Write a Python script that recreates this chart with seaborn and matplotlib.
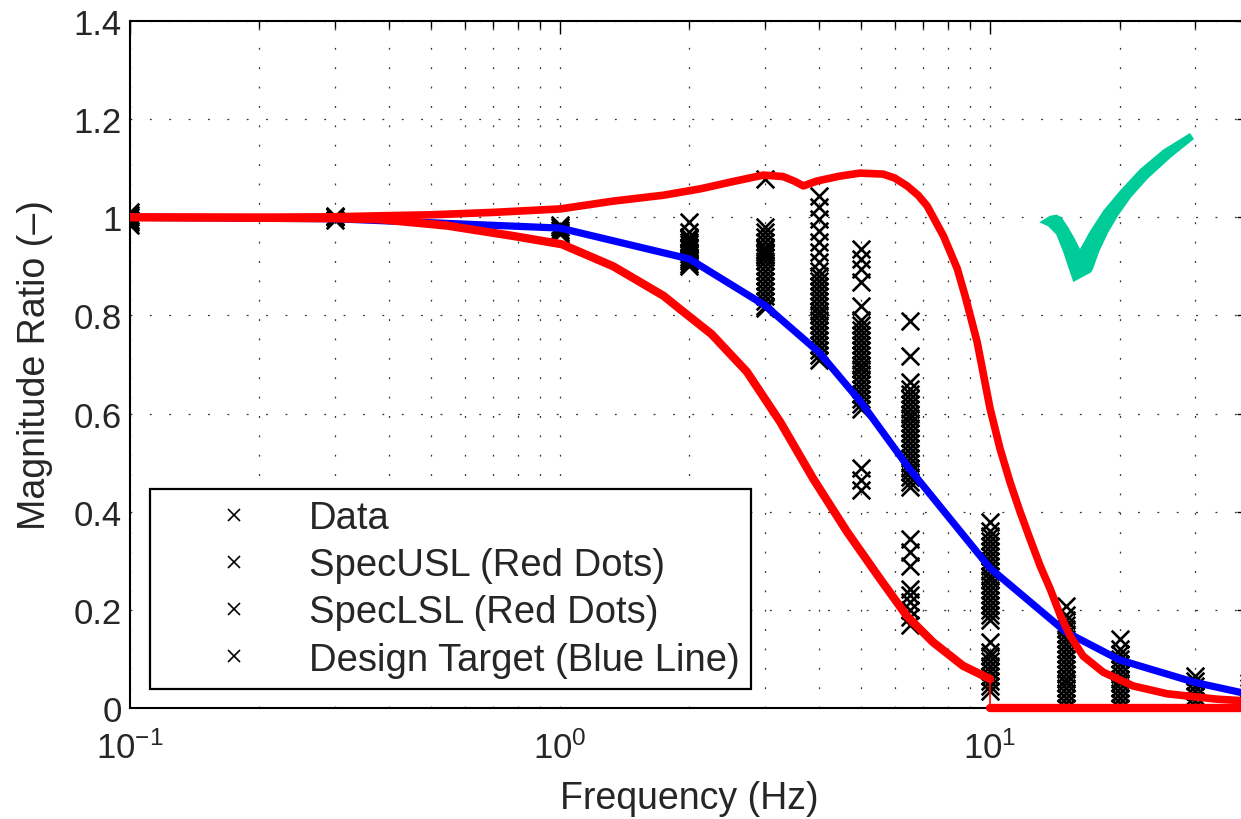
import matplotlib
matplotlib.use("Agg")
import matplotlib.pyplot as plt
import seaborn as sns
import pandas as pd
from matplotlib.lines import Line2D
from matplotlib.patches import Polygon
from matplotlib.ticker import FixedLocator, NullFormatter, LogLocator

# ---------------- data ----------------
data_freqs = [0.1, 0.3, 1, 2, 3, 4, 5, 6.5, 10, 15, 20, 30, 40]
data_vals = [
    [0.985, 0.99, 0.995, 1.0, 1.005, 1.01],
    [0.995, 1.0, 1.002],
    [0.965, 0.97, 0.975, 0.98, 0.985],
    [0.99, 0.97, 0.96, 0.955, 0.95, 0.945, 0.94, 0.935, 0.93, 0.925, 0.92, 0.915, 0.91, 0.905, 0.90],
    [1.078, 0.98, 0.97, 0.96, 0.95, 0.94, 0.935, 0.93, 0.925, 0.92, 0.91, 0.90, 0.89, 0.88, 0.87,
     0.86, 0.85, 0.84, 0.83, 0.82, 0.815],
    [1.043, 1.021, 0.997, 0.972, 0.95, 0.929, 0.909, 0.89, 0.88, 0.87, 0.86, 0.85, 0.84, 0.83, 0.82,
     0.81, 0.80, 0.79, 0.78, 0.77, 0.76, 0.75, 0.74, 0.73, 0.72, 0.71],
    [0.935, 0.915, 0.895, 0.868, 0.82, 0.79, 0.78, 0.77, 0.76, 0.75, 0.74, 0.73, 0.72, 0.71, 0.70,
     0.69, 0.68, 0.67, 0.66, 0.65, 0.64, 0.63, 0.62, 0.61, 0.49, 0.465, 0.445],
    [0.789, 0.717, 0.664, 0.65, 0.64, 0.63, 0.62, 0.61, 0.60, 0.59, 0.58, 0.57, 0.56, 0.55, 0.54,
     0.53, 0.52, 0.51, 0.50, 0.49, 0.48, 0.47, 0.46, 0.45, 0.345, 0.318, 0.29, 0.243, 0.23, 0.215,
     0.20, 0.185, 0.17],
    [0.379, 0.36, 0.35, 0.34, 0.33, 0.32, 0.31, 0.30, 0.29, 0.28, 0.27, 0.26, 0.25, 0.24, 0.23,
     0.22, 0.21, 0.20, 0.19, 0.18, 0.134, 0.115, 0.105, 0.095, 0.085, 0.075, 0.065, 0.055, 0.045, 0.035],
    [0.208, 0.19, 0.18, 0.17, 0.16, 0.15, 0.14, 0.13, 0.12, 0.11, 0.10, 0.09, 0.08, 0.07, 0.06,
     0.05, 0.04, 0.03, 0.02, 0.01, 0.0],
    [0.14, 0.12, 0.11, 0.10, 0.09, 0.08, 0.07, 0.06, 0.05, 0.04, 0.03, 0.02, 0.01, 0.0],
    [0.065, 0.055, 0.045, 0.035, 0.025, 0.015, 0.005],
    [0.05, 0.04, 0.03, 0.02, 0.01, 0.0],
]

target_f = [0.1, 0.3, 1, 2, 3, 4, 5, 6.5, 10, 15, 20, 30, 40]
target_y = [1.0, 0.997, 0.978, 0.915, 0.82, 0.725, 0.624, 0.487, 0.285, 0.155, 0.098, 0.052, 0.028]

usl_f = [0.1, 0.2, 0.3, 0.38, 0.5, 0.7, 1.0, 1.33, 1.74, 2.12, 2.5, 2.97, 3.3, 3.5, 3.68, 3.96,
         4.48, 4.98, 5.64, 6.0, 6.41, 6.8, 7.14, 7.79, 8.39, 8.76, 9.33, 10.0, 10.55, 11.13,
         11.74, 12.39, 13.07, 13.79, 14.55, 15.35, 16.45, 18.32, 21.5, 25.8, 33.7, 40]
usl_y = [1.0, 1.0, 1.001, 1.003, 1.005, 1.01, 1.017, 1.033, 1.045, 1.058, 1.072, 1.086, 1.083,
         1.074, 1.064, 1.074, 1.084, 1.09, 1.088, 1.08, 1.064, 1.045, 1.023, 0.962, 0.895, 0.838,
         0.746, 0.61, 0.528, 0.46, 0.40, 0.344, 0.29, 0.243, 0.19, 0.147, 0.106, 0.073, 0.045,
         0.029, 0.018, 0.014]

lsl_f = [0.1, 0.2, 0.3, 0.38, 0.546, 0.777, 1.01, 1.33, 1.74, 1.9, 2.25, 2.72, 3.25, 3.88, 4.65,
         5.55, 6.41, 7.37, 8.65, 10.0]
lsl_y = [1.0, 0.999, 0.998, 0.996, 0.983, 0.962, 0.945, 0.90, 0.84, 0.813, 0.762, 0.685, 0.583,
         0.467, 0.359, 0.263, 0.187, 0.134, 0.086, 0.059]
lsl_zero_f = [10, 40]
lsl_zero_y = [0, 0]
lsl_jump_f = [10, 10]
lsl_jump_y = [0.059, 0]

y_ticks = [0, 0.2, 0.4, 0.6, 0.8, 1.0, 1.2, 1.4]
y_tick_labels = ["0", "0.2", "0.4", "0.6", "0.8", "1", "1.2", "1.4"]
x_ticks = [0.1, 1, 10]
x_tick_labels = [r"$10^{-1}$", r"$10^{0}$", r"$10^{1}$"]
legend_labels = ["Data", "SpecUSL (Red Dots)", "SpecLSL (Red Dots)", "Design Target (Blue Line)"]

# ---------------- style ----------------
sns.set_style("white")
plt.rcParams["font.family"] = ["Liberation Sans", "DejaVu Sans"]
plt.rcParams["mathtext.fontset"] = "custom"
plt.rcParams["mathtext.rm"] = "Liberation Sans"
plt.rcParams["mathtext.it"] = "Liberation Sans:italic"

rows = [(f, v) for f, vs in zip(data_freqs, data_vals) for v in vs]
df = pd.DataFrame(rows, columns=["freq", "mag"])

fig = plt.figure(figsize=(12.41, 8.2), dpi=100)
W, H = 1241, 820
ax = fig.add_axes([130 / W, 1 - 709 / H, (1249 - 130) / W, (709 - 22) / H])
ax.set_xscale("log")

sns.scatterplot(data=df, x="freq", y="mag", marker="x", color="black", s=160,
                linewidth=1.9, ax=ax, legend=False, zorder=2)
sns.lineplot(x=target_f, y=target_y, sort=False, estimator=None, color="#0000ff",
             lw=5.2, ax=ax, zorder=3)
sns.lineplot(x=lsl_f, y=lsl_y, sort=False, estimator=None, color="#ff0000",
             lw=6, ax=ax, zorder=4)
sns.lineplot(x=lsl_jump_f, y=lsl_jump_y, sort=False, estimator=None, color="#ff0000",
             lw=1.2, ax=ax, zorder=4)
sns.lineplot(x=lsl_zero_f, y=lsl_zero_y, sort=False, estimator=None, color="#ff0000",
             lw=6, ax=ax, zorder=4, clip_on=False)
sns.lineplot(x=usl_f, y=usl_y, sort=False, estimator=None, color="#ff0000",
             lw=5.5, ax=ax, zorder=4)

ax.set_xlim(0.1, 40)
ax.set_ylim(0, 1.4)
ax.xaxis.set_major_locator(FixedLocator(x_ticks))
ax.set_xticklabels(x_tick_labels)
ax.xaxis.set_minor_locator(LogLocator(base=10, subs=[2, 3, 4, 5, 6, 7, 8, 9]))
ax.xaxis.set_minor_formatter(NullFormatter())
ax.yaxis.set_major_locator(FixedLocator(y_ticks))
ax.set_yticklabels(y_tick_labels)

ax.tick_params(which="both", direction="in", top=True, right=True, labelsize=25,
               width=1.0, color="black")
ax.tick_params(which="major", length=9)
ax.tick_params(which="minor", length=5)
ax.tick_params(axis="x", which="major", pad=16)
ax.tick_params(axis="y", which="major", pad=6)

grid_kw = dict(color="#333333", linestyle=(0, (1.5, 14)), linewidth=0.9)
ax.grid(True, which="both", axis="x", **grid_kw)
ax.grid(True, which="major", axis="y", **grid_kw)
ax.set_axisbelow(True)

for s in ax.spines.values():
    s.set_linewidth(1.5)
    s.set_color("black")

ax.set_xlabel("Frequency (Hz)", fontsize=27, labelpad=11)
ax.set_ylabel("Magnitude Ratio (\u2013)", fontsize=27, labelpad=15)

handles = [Line2D([], [], marker="x", ls="none", color="black", markersize=9, mew=1.2)
           for _ in legend_labels]
leg = ax.legend(handles, legend_labels, loc="lower left",
                bbox_to_anchor=((150 - 130) / 1119, (709 - 690) / 687),
                fontsize=27.5, frameon=True, fancybox=False, framealpha=1,
                edgecolor="black", borderpad=0.3, labelspacing=0.29,
                handlelength=3.8, handletextpad=0.05, borderaxespad=0)
leg.get_frame().set_linewidth(1.6)

# green check mark annotation (outline in figure pixels)
check_px = [(1039.3, 223.3), (1050, 216.7), (1056.7, 215.7), (1061.7, 218.3), (1068.3, 228.3),
            (1075, 240), (1080, 250),
            (1090, 232), (1103.3, 211.5), (1120, 191.5), (1140, 170), (1163.3, 150.5),
            (1190, 134), (1194, 140),
            (1171, 158.5), (1148, 179.5), (1131, 198.5), (1118, 217), (1108, 234),
            (1099.5, 252), (1093, 270), (1091, 273.5),
            (1073.3, 283), (1069.5, 272), (1063, 252.5), (1056.2, 235.5), (1048, 227.2)]
check = Polygon([(x / W, 1 - y / H) for x, y in check_px], closed=True,
                transform=fig.transFigure, facecolor="#00CC99", edgecolor="none", zorder=10)
fig.patches.append(check)

fig.savefig("out.png", dpi=100)
